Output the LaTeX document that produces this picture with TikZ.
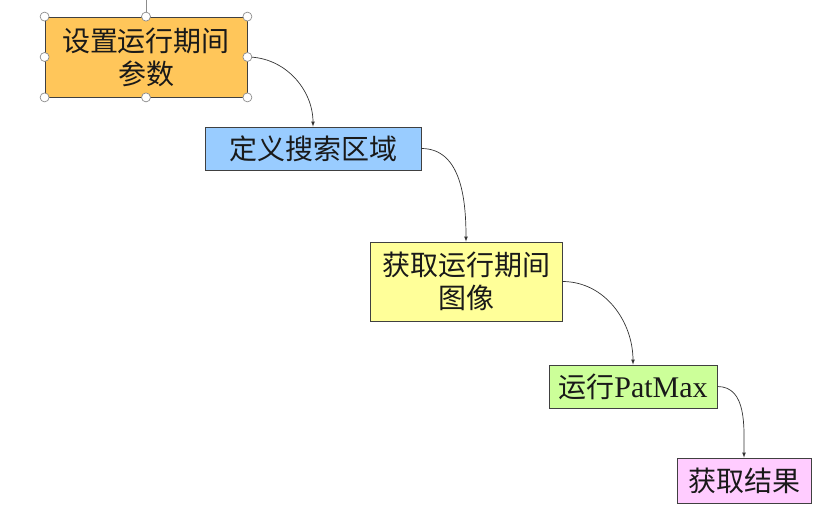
\documentclass[tikz,border=0pt]{standalone}
\usepackage{fontspec}
\setmainfont{Liberation Serif}
\newfontfamily\cjk{Noto Sans CJK SC}
\usepackage{tikz}
\usetikzlibrary{arrows}
\usepackage{xcolor}
\definecolor{stepone}{HTML}{FFC65A}
\definecolor{steptwo}{HTML}{99CCFF}
\definecolor{stepthree}{HTML}{FFFF99}
\definecolor{stepfour}{HTML}{CCFF99}
\definecolor{stepfive}{HTML}{FFCCFF}
\tikzset{>=latex}

\begin{document}
\begin{tikzpicture}[x=1pt, y=-1pt]
        % A..E = the five steps, h1..h8 = selection handles round A
        \tikzstyle{box}=[rectangle, draw=black!75, line width=0.8pt, inner sep=0pt, align=center, text=black!90, font=\fontsize{28}{33}\selectfont\cjk]
        \tikzstyle{every edge}=[black!80, ->, line width=0.7pt, draw]
        \tikzstyle{handle}=[circle, draw=black!45, fill=white, line width=0.7pt, inner sep=0pt, minimum size=9pt]
        \useasboundingbox (0,0) rectangle (831,514);
        \node[box, fill=stepone, minimum width=202pt, minimum height=80pt] (A) at (146,57) {设置运行期间\\参数};
        \node[box, fill=steptwo, minimum width=216pt, minimum height=43pt] (B) at (313,148.5) {定义搜索区域};
        \node[box, fill=stepthree, minimum width=192pt, minimum height=79pt] (C) at (466,281.5) {获取运行期间\\图像};
        \node[box, fill=stepfour, minimum width=168pt, minimum height=43pt] (D) at (633,386.5) {运行{\rmfamily\fontsize{30}{33}\selectfont PatMax}};
        \node[box, fill=stepfive, minimum width=134pt, minimum height=45pt] (E) at (744,480.5) {获取结果};
        \draw (A.east) edge[out=0, in=90] (B.north);
        \draw (B.east) edge[out=0, in=90] (C.north);
        \draw (C.east) edge[out=0, in=90] (D.north);
        \draw (D.east) edge[out=0, in=90] (E.north);
        % rotation line and handles of the selected box
        \coordinate (rot) at (146,0);
        \draw[black!45, line width=0.7pt] (A.north) -- (rot);
        \foreach \a [count=\i] in {north west, north, north east, east, south east, south, south west, west}
                \node[handle] (h\i) at (A.\a) {};
\end{tikzpicture}
\end{document}
